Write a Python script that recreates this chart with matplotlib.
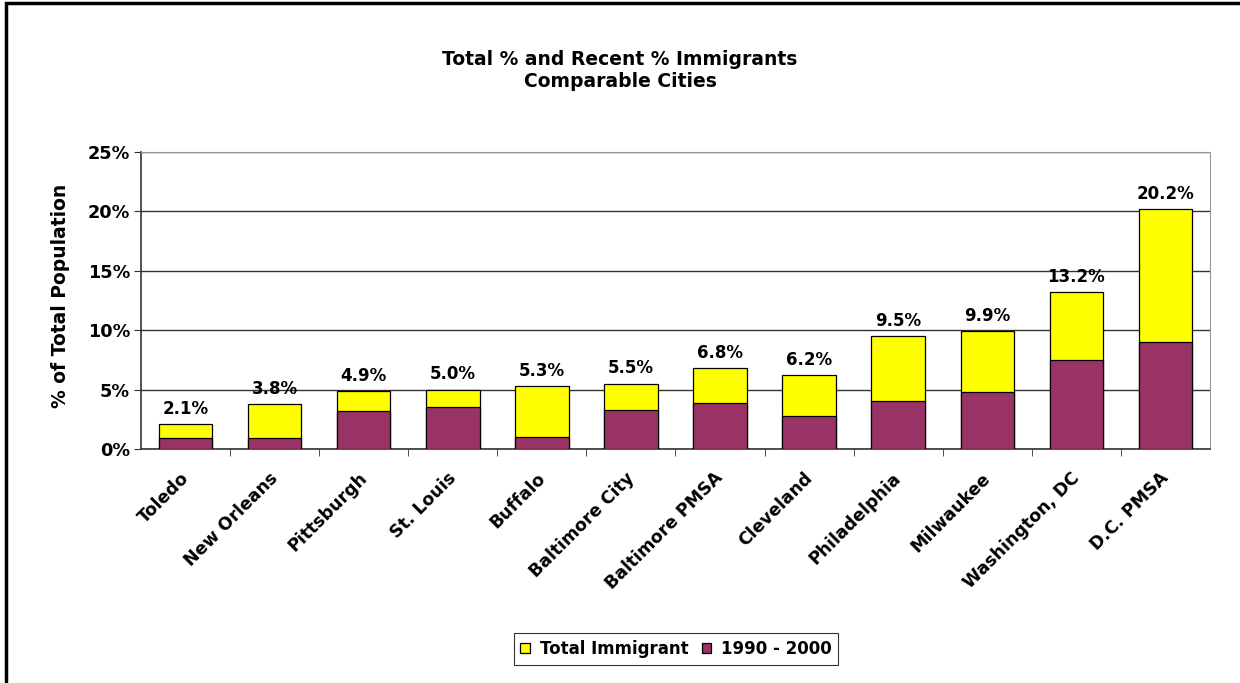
import matplotlib
matplotlib.use("Agg")
import matplotlib.pyplot as plt
import matplotlib.transforms as mtransforms
from matplotlib.patches import Rectangle
from matplotlib.ticker import FuncFormatter, FixedLocator

plt.rcParams['font.family'] = ['DejaVu Sans']

cities = ["Toledo", "New Orleans", "Pittsburgh", "St. Louis", "Buffalo",
          "Baltimore City", "Baltimore PMSA", "Cleveland", "Philadelphia",
          "Milwaukee", "Washington, DC", "D.C. PMSA"]
total_pct = [2.1, 3.8, 4.9, 5.0, 5.3, 5.5, 6.8, 6.2, 9.5, 9.9, 13.2, 20.2]
recent_pct = [0.9, 0.9, 3.2, 3.5, 1.0, 3.3, 3.9, 2.8, 4.0, 4.8, 7.5, 9.0]
yticks = [0, 5, 10, 15, 20, 25]

YELLOW = "#FFFF00"
MAROON = "#993366"

fig = plt.figure(figsize=(12.4, 6.83), dpi=100)
ax = fig.add_axes([0.1137, 0.3426, 0.8621, 0.4349])

x = list(range(len(cities)))
w = 0.6
ax.bar(x, total_pct, width=w, color=YELLOW, edgecolor="black", linewidth=0.9,
       label="Total Immigrant", zorder=3)
ax.bar(x, recent_pct, width=w, color=MAROON, edgecolor="black", linewidth=0.9,
       label="1990 - 2000", zorder=4)

for xi, v in zip(x, total_pct):
    ax.annotate(f"{v:.1f}%", xy=(xi, v), xytext=(0, 4.5), textcoords="offset points",
                ha="center", va="bottom", fontsize=12, fontweight="bold")

ax.set_xlim(-0.5, len(cities) - 0.5)
ax.set_ylim(0, 25)
ax.set_yticks(yticks)
ax.yaxis.set_major_formatter(FuncFormatter(lambda v, p: f"{v:.0f}%"))
ax.yaxis.grid(True, color="#333333", linewidth=1.0, zorder=0)
ax.set_axisbelow(True)

ax.set_xticks(x)
ax.set_xticklabels(cities, rotation=45, ha="right", rotation_mode="anchor",
                   fontsize=12.5, fontweight="bold")
ax.tick_params(axis="x", which="major", length=0, pad=10)
shift = mtransforms.ScaledTranslation(-0.06, -0.06, fig.dpi_scale_trans)
for lab in ax.get_xticklabels():
    lab.set_transform(lab.get_transform() + shift)
ax.xaxis.set_minor_locator(FixedLocator([i + 0.5 for i in range(len(cities) - 1)]))
ax.tick_params(axis="x", which="minor", length=5, direction="out", color="#333333")
ax.tick_params(axis="y", length=5, direction="out", color="#333333",
               labelsize=12.7, pad=3)
for lab in ax.get_yticklabels():
    lab.set_fontweight("bold")

for s in ["left", "bottom"]:
    ax.spines[s].set_color("#333333")
    ax.spines[s].set_linewidth(1.2)
ax.spines["right"].set_color("#999999")
ax.spines["top"].set_color("#999999")

fig.text(60 / 1240, 1 - 296 / 683, "% of Total Population", rotation=90,
         ha="center", va="center", fontsize=13.5, fontweight="bold")

fig.text(0.5, 1 - 65 / 683, "Total % and Recent % Immigrants", ha="center",
         va="baseline", fontsize=13.5, fontweight="bold")
fig.text(0.5, 1 - 87 / 683, "Comparable Cities", ha="center", va="baseline",
         fontsize=13.5, fontweight="bold")

leg = fig.legend(loc="center", bbox_to_anchor=(676 / 1240, 1 - 649 / 683), ncol=2,
                 frameon=True, fancybox=False, edgecolor="black",
                 handlelength=0.55, handleheight=0.55, handletextpad=0.6,
                 columnspacing=0.8, borderpad=0.4,
                 prop={"weight": "bold", "size": 12})
leg.get_frame().set_linewidth(0.8)

fig.patches.append(Rectangle((0.005, -0.01), 1.2, 1.005, transform=fig.transFigure,
                             fill=False, edgecolor="black", linewidth=2.5))

fig.savefig("out.png", dpi=100)
